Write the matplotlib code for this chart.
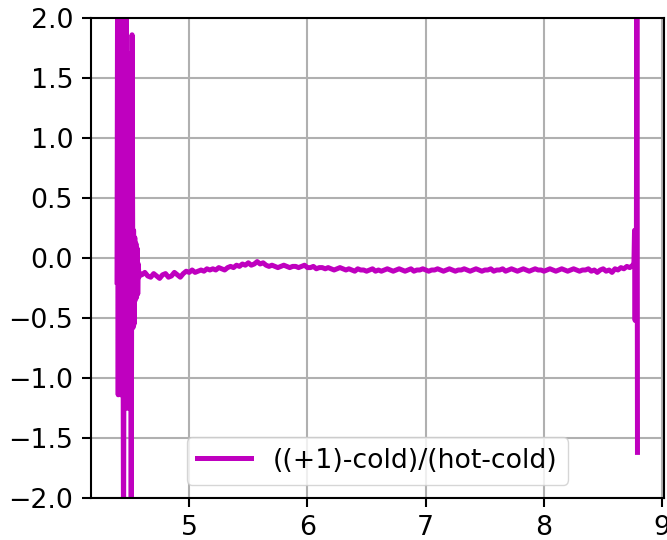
import numpy as np
import matplotlib
matplotlib.use("Agg")
import matplotlib.pyplot as plt

# noisy start near 4.4 (clipped ones go past +-2)
left_x = [4.390, 4.395, 4.400, 4.405, 4.410, 4.415, 4.420, 4.425, 4.430, 4.435,
          4.445, 4.455, 4.462, 4.468, 4.475, 4.480, 4.485, 4.490, 4.497, 4.503,
          4.510, 4.517, 4.525, 4.530, 4.535, 4.540, 4.545, 4.550, 4.555, 4.560,
          4.565, 4.570, 4.575, 4.585]
left_y = [-0.20, 2.50, -1.14, 2.50, -1.10, 2.50, -1.14, 2.50, -0.90, 2.50,
          -2.50, 2.50, -1.25, 2.50, -1.25, 1.07, -1.25, 1.00, -1.10, 1.70,
          -2.50, 1.86, -0.58, 0.23, -0.55, 0.17, -0.35, 0.12, -0.33, 0.08,
          -0.30, -0.05, -0.16, -0.13]

# flat middle part, 4.600 .. 8.750 in steps of 0.025
mid_start, mid_end = 4.600, 8.750
mid_y = [
    -0.14, -0.12, -0.15, -0.16, -0.13, -0.15, -0.17, -0.14, -0.13, -0.16,
    -0.15, -0.12, -0.14, -0.16, -0.13, -0.11, -0.12, -0.10, -0.12, -0.11,
    -0.10, -0.11, -0.09, -0.10, -0.09, -0.10, -0.08, -0.09, -0.10, -0.08,
    -0.07, -0.08, -0.06, -0.07, -0.05, -0.06, -0.04, -0.06, -0.05, -0.03,
    -0.05, -0.04, -0.06, -0.07, -0.06, -0.07, -0.08, -0.07, -0.06, -0.07,
    -0.08, -0.07, -0.07, -0.08, -0.07, -0.06, -0.08, -0.08, -0.07, -0.09,
    -0.08, -0.08, -0.09, -0.08, -0.09, -0.10, -0.09, -0.08, -0.09, -0.10,
    -0.09, -0.10, -0.11, -0.09, -0.10, -0.10, -0.11, -0.10, -0.09, -0.11,
    -0.10, -0.11, -0.10, -0.09, -0.10, -0.11, -0.10, -0.09, -0.10, -0.11,
    -0.10, -0.09, -0.11, -0.10, -0.10, -0.09, -0.10, -0.11, -0.10, -0.10,
    -0.09, -0.10, -0.11, -0.10, -0.09, -0.10, -0.11, -0.10, -0.10, -0.09,
    -0.10, -0.11, -0.10, -0.09, -0.10, -0.11, -0.10, -0.10, -0.09, -0.11,
    -0.10, -0.10, -0.09, -0.11, -0.10, -0.09, -0.10, -0.11, -0.10, -0.09,
    -0.10, -0.11, -0.10, -0.09, -0.10, -0.10, -0.11, -0.10, -0.09, -0.10,
    -0.11, -0.10, -0.09, -0.10, -0.11, -0.10, -0.09, -0.10, -0.11, -0.10,
    -0.10, -0.09, -0.11, -0.10, -0.12, -0.10, -0.09, -0.11, -0.10, -0.12,
    -0.09, -0.10, -0.08, -0.09, -0.07, -0.08, -0.06,
]

# spike at the end near 8.78
right_x = [8.760, 8.765, 8.770, 8.775, 8.780, 8.785, 8.790]
right_y = [-0.05, 0.23, -0.52, 0.20, -0.45, 3.00, -1.62]

label = "((+1)-cold)/(hot-cold)"

mid_x = np.linspace(mid_start, mid_end, len(mid_y))
x = np.concatenate([left_x, mid_x, right_x])
y = np.concatenate([left_y, mid_y, right_y])

plt.rcParams['font.size'] = 19.3
plt.rcParams['axes.linewidth'] = 1.5
plt.rcParams['xtick.major.size'] = 6.8
plt.rcParams['ytick.major.size'] = 6.8
plt.rcParams['xtick.major.width'] = 1.5
plt.rcParams['ytick.major.width'] = 1.5
plt.rcParams['xtick.major.pad'] = 5.5
plt.rcParams['ytick.major.pad'] = 6

fig = plt.figure(figsize=(6.67, 5.4), dpi=100)
ax = fig.add_axes([91 / 667, 42 / 540, 572.5 / 667, 480 / 540])
ax.plot(x, y, color='m', linewidth=3.6, label=label)
ax.set_ylim(-2, 2)
ax.grid(True, linewidth=1.5, color='#b0b0b0')
ax.legend(loc='lower center', handlelength=2.0)
fig.savefig('out.png', dpi=100)
